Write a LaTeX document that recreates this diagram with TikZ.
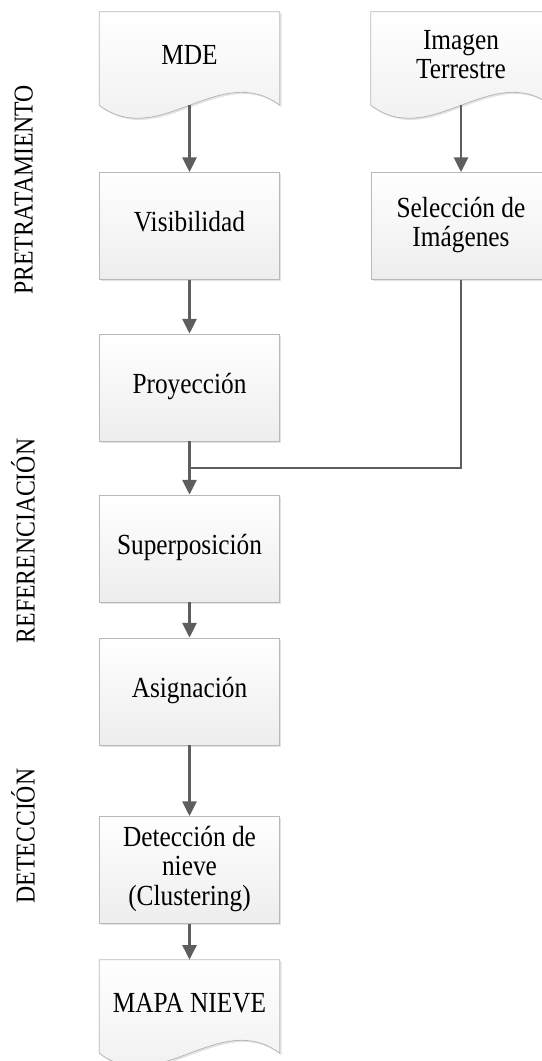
\documentclass[tikz,border=0pt]{standalone}
\usepackage{graphicx}
\usepackage{fontspec}
\setmainfont{Liberation Serif}
\usetikzlibrary{arrows.meta,shadows,backgrounds}
\definecolor{arrowgray}{HTML}{5E5E5E}
\definecolor{edgegray}{HTML}{B8B8B8}
\newcommand\mydocshape[1]{%
  \path[boxfill] (#1.south east) -- (#1.north east) -- (#1.north west) -- (#1.south west)
    .. controls ([shift={(60,45)}]#1.south west) and ([shift={(-60,-45)}]#1.south east) .. (#1.south east) -- cycle;}
\newcommand\tallt[1]{\scalebox{1}[1.15]{\begin{tabular}{@{}c@{}}#1\end{tabular}}}
\begin{document}
\begin{tikzpicture}[x=0.75pt,y=-0.75pt,
  boxfill/.style={top color=white, bottom color=black!7, draw=edgegray, line width=0.6pt,
     drop shadow={shadow xshift=1.3pt, shadow yshift=-1.3pt, opacity=0.22}},
  procbox/.style={boxfill, rectangle, minimum width=135pt, minimum height=80.25pt,
     align=center, inner sep=2pt, font=\fontsize{19}{19.4}\selectfont},
  docnode/.style={rectangle, minimum width=135pt, minimum height=69.75pt,
     align=center, inner sep=0pt, font=\fontsize{19}{18.8}\selectfont},
  flow/.style={draw=arrowgray, line width=1.9pt, -{Triangle[length=11pt,width=10.5pt]}},
  plainflow/.style={draw=arrowgray, line width=1.9pt},
  lane/.style={rotate=90, font=\fontsize{17.8}{18}\selectfont}
]
\useasboundingbox (0,0) rectangle (542,1061);
\clip (0,0) rectangle (542,1061);

% document-shaped nodes (shape drawn on background layer)
\node[docnode] (mde) at (189.5,58.5) {\raisebox{4pt}{\tallt{MDE}}};
\node[docnode] (img) at (461,58.5) {\raisebox{5pt}{\tallt{Imagen\\Terrestre}}};
\node[docnode] (mapa) at (189.5,1006.5) {\raisebox{2pt}{\tallt{MAPA NIEVE}}};
\begin{scope}[on background layer]
  \mydocshape{mde}
  \mydocshape{img}
  \mydocshape{mapa}
\end{scope}

% process boxes
\node[procbox] (vis) at (189.5,226) {\tallt{Visibilidad}};
\node[procbox] (sel) at (461,226) {\tallt{Selección de\\Imágenes}};
\node[procbox] (proy) at (189.5,387.5) {\tallt{Proyección}};
\node[procbox] (sup) at (189.5,548.5) {\tallt{Superposición}};
\node[procbox] (asig) at (189.5,691.5) {\tallt{Asignación}};
\node[procbox] (det) at (189.5,870) {\tallt{Detección de\\nieve\\(Clustering)}};

\coordinate (j) at (189.5,468);

% connectors
\draw[flow] (mde.south) -- (vis.north);
\draw[flow] (img.south) -- (sel.north);
\draw[flow] (vis.south) -- (proy.north);
\draw[plainflow] (sel.south) |- (j);
\draw[flow] (proy.south) -- (sup.north);
\draw[flow] (sup.south) -- (asig.north);
\draw[flow] (asig.south) -- (det.north);
\draw[flow] (det.south) -- (mapa.north);

% lane labels
\node[lane] (l1) at (27,190) {\tallt{PRETRATAMIENTO}};
\node[lane] (l2) at (27,541) {\tallt{REFERENCIACIÓN}};
\node[lane] (l3) at (27,836) {\tallt{DETECCIÓN}};
\end{tikzpicture}
\end{document}
